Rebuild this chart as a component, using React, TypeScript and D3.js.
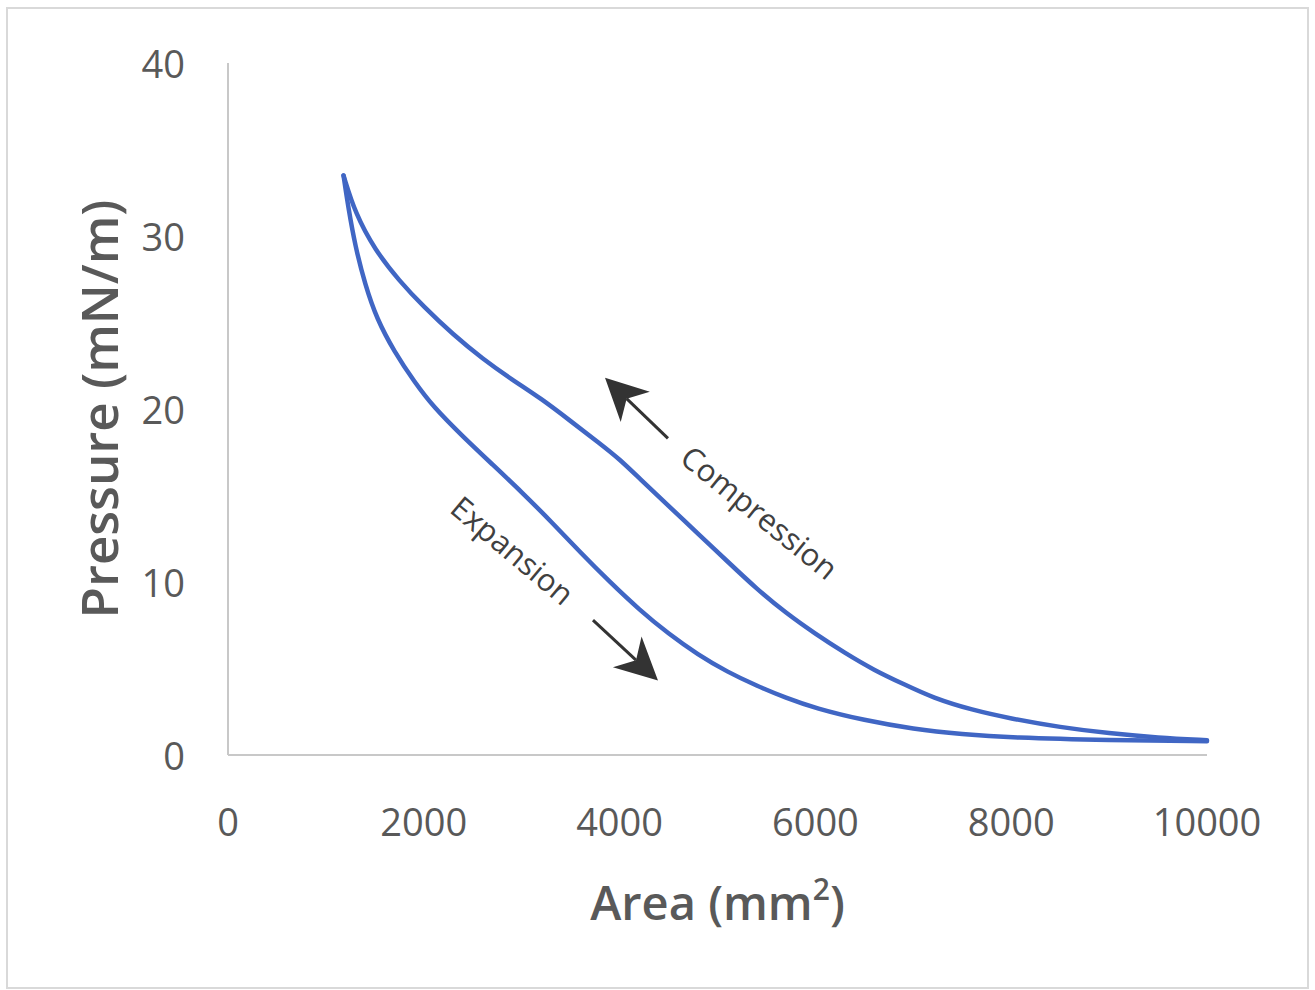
import React from "react";
import * as d3 from "d3";

// surface pressure-area isotherm loop
const xTicks = [0, 2000, 4000, 6000, 8000, 10000];
const yTicks = [0, 10, 20, 30, 40];

const compressionArea = [1180, 1300, 1500, 1750, 2000, 2300, 2600, 2900, 3200, 3500, 3800, 4000, 4200, 4500, 4800, 5100, 5400, 5700, 6000, 6300, 6600, 6900, 7200, 7600, 8000, 8500, 9000, 9500, 10000];
const compressionPressure = [33.5, 31.3, 29.2, 27.4, 25.9, 24.3, 22.9, 21.7, 20.6, 19.3, 18.0, 17.1, 16.0, 14.4, 12.8, 11.2, 9.6, 8.2, 7.0, 5.9, 4.9, 4.1, 3.3, 2.6, 2.1, 1.6, 1.25, 1.0, 0.85];

const expansionArea = [1180, 1230, 1300, 1400, 1520, 1700, 1900, 2100, 2400, 2700, 3000, 3300, 3600, 3900, 4200, 4500, 4800, 5100, 5400, 5700, 6000, 6500, 7000, 7500, 8000, 9000, 10000];
const expansionPressure = [33.5, 31.6, 29.4, 27.2, 25.2, 23.3, 21.6, 20.1, 18.4, 16.8, 15.2, 13.5, 11.7, 10.0, 8.4, 7.0, 5.8, 4.8, 4.0, 3.3, 2.7, 2.0, 1.5, 1.2, 1.0, 0.85, 0.8];

// annotations: label centre and arrow (tail -> tip), in data units
const labels = ["Compression", "Expansion"];
const labelArea = [5434, 2911];
const labelPressure = [14.05, 11.85];
const labelAngle = [39, 40];
const arrowFrom = [[4494, 18.3], [3728, 7.8]];
const arrowTo = [[3851, 21.8], [4392, 4.3]];

const W = 1315;
const H = 990;
const margin = { top: 63, right: 108, bottom: 235, left: 228 };

export default function App() {
  const x = d3.scaleLinear().domain([0, 10000]).range([margin.left, W - margin.right]);
  const y = d3.scaleLinear().domain([0, 40]).range([H - margin.bottom, margin.top]);

  const line = d3
    .line<[number, number]>()
    .x((d) => x(d[0]))
    .y((d) => y(d[1]))
    .curve(d3.curveBasis);

  const comp = compressionArea.map((a, i) => [a, compressionPressure[i]] as [number, number]);
  const exp = expansionArea.map((a, i) => [a, expansionPressure[i]] as [number, number]);

  const arrowHead = (from: number[], to: number[]) => {
    const x1 = x(from[0]), y1 = y(from[1]);
    const x2 = x(to[0]), y2 = y(to[1]);
    const ang = Math.atan2(y2 - y1, x2 - x1);
    const len = 42, half = 21, notch = 30;
    const ux = Math.cos(ang), uy = Math.sin(ang);
    const px = -uy, py = ux;
    const bx = x2 - ux * len, by = y2 - uy * len;
    const nx = x2 - ux * notch, ny = y2 - uy * notch;
    return {
      line: [x1, y1, nx, ny],
      head: `M${x2},${y2}L${bx + px * half},${by + py * half}L${nx},${ny}L${bx - px * half},${by - py * half}Z`,
    };
  };

  const font = "'Open Sans', 'DejaVu Sans', sans-serif";

  return (
    <svg width={W} height={H} style={{ position: "absolute", left: 0, top: 0, background: "#fff" }} fontFamily={font}>
      <rect x={7} y={8} width={1301} height={980} fill="#fff" stroke="#d9d9d9" strokeWidth={2} />

      {/* axes */}
      <line x1={x(0)} x2={x(0)} y1={y(40)} y2={y(0)} stroke="#c8c8c8" strokeWidth={2} />
      <line x1={x(0)} x2={x(10000)} y1={y(0)} y2={y(0)} stroke="#c8c8c8" strokeWidth={2} />

      {yTicks.map((t) => (
        <text key={t} x={185} y={y(t)} textAnchor="end" dominantBaseline="central" fontSize={38} fill="#595959">
          {t}
        </text>
      ))}
      {xTicks.map((t) => (
        <text key={t} x={x(t)} y={821} textAnchor="middle" dominantBaseline="central" fontSize={38} fill="#595959">
          {t}
        </text>
      ))}

      <text x={x(5000)} y={902} textAnchor="middle" dominantBaseline="central" fontSize={47} fontWeight={600} fill="#595959">
        Area (mm<tspan dy={-14} fontSize={30}>2</tspan><tspan dy={14}>)</tspan>
      </text>
      <text
        transform={`translate(98,${y(20)}) rotate(-90)`}
        textAnchor="middle"
        dominantBaseline="central"
        fontSize={51}
        fontWeight={600}
        fill="#595959"
      >
        Pressure (mN/m)
      </text>

      {/* loop */}
      <path d={line(comp) ?? ""} fill="none" stroke="#4066c4" strokeWidth={4.5} strokeLinecap="round" />
      <path d={line(exp) ?? ""} fill="none" stroke="#4066c4" strokeWidth={4.5} strokeLinecap="round" />

      {/* annotations */}
      {labels.map((l, i) => (
        <text
          key={l}
          transform={`translate(${x(labelArea[i])},${y(labelPressure[i])}) rotate(${labelAngle[i]})`}
          textAnchor="middle"
          dominantBaseline="central"
          fontSize={31}
          fill="#404040"
        >
          {l}
        </text>
      ))}
      {arrowFrom.map((f, i) => {
        const a = arrowHead(f, arrowTo[i]);
        return (
          <g key={i}>
            <line x1={a.line[0]} y1={a.line[1]} x2={a.line[2]} y2={a.line[3]} stroke="#333" strokeWidth={3} />
            <path d={a.head} fill="#333" />
          </g>
        );
      })}
    </svg>
  );
}
